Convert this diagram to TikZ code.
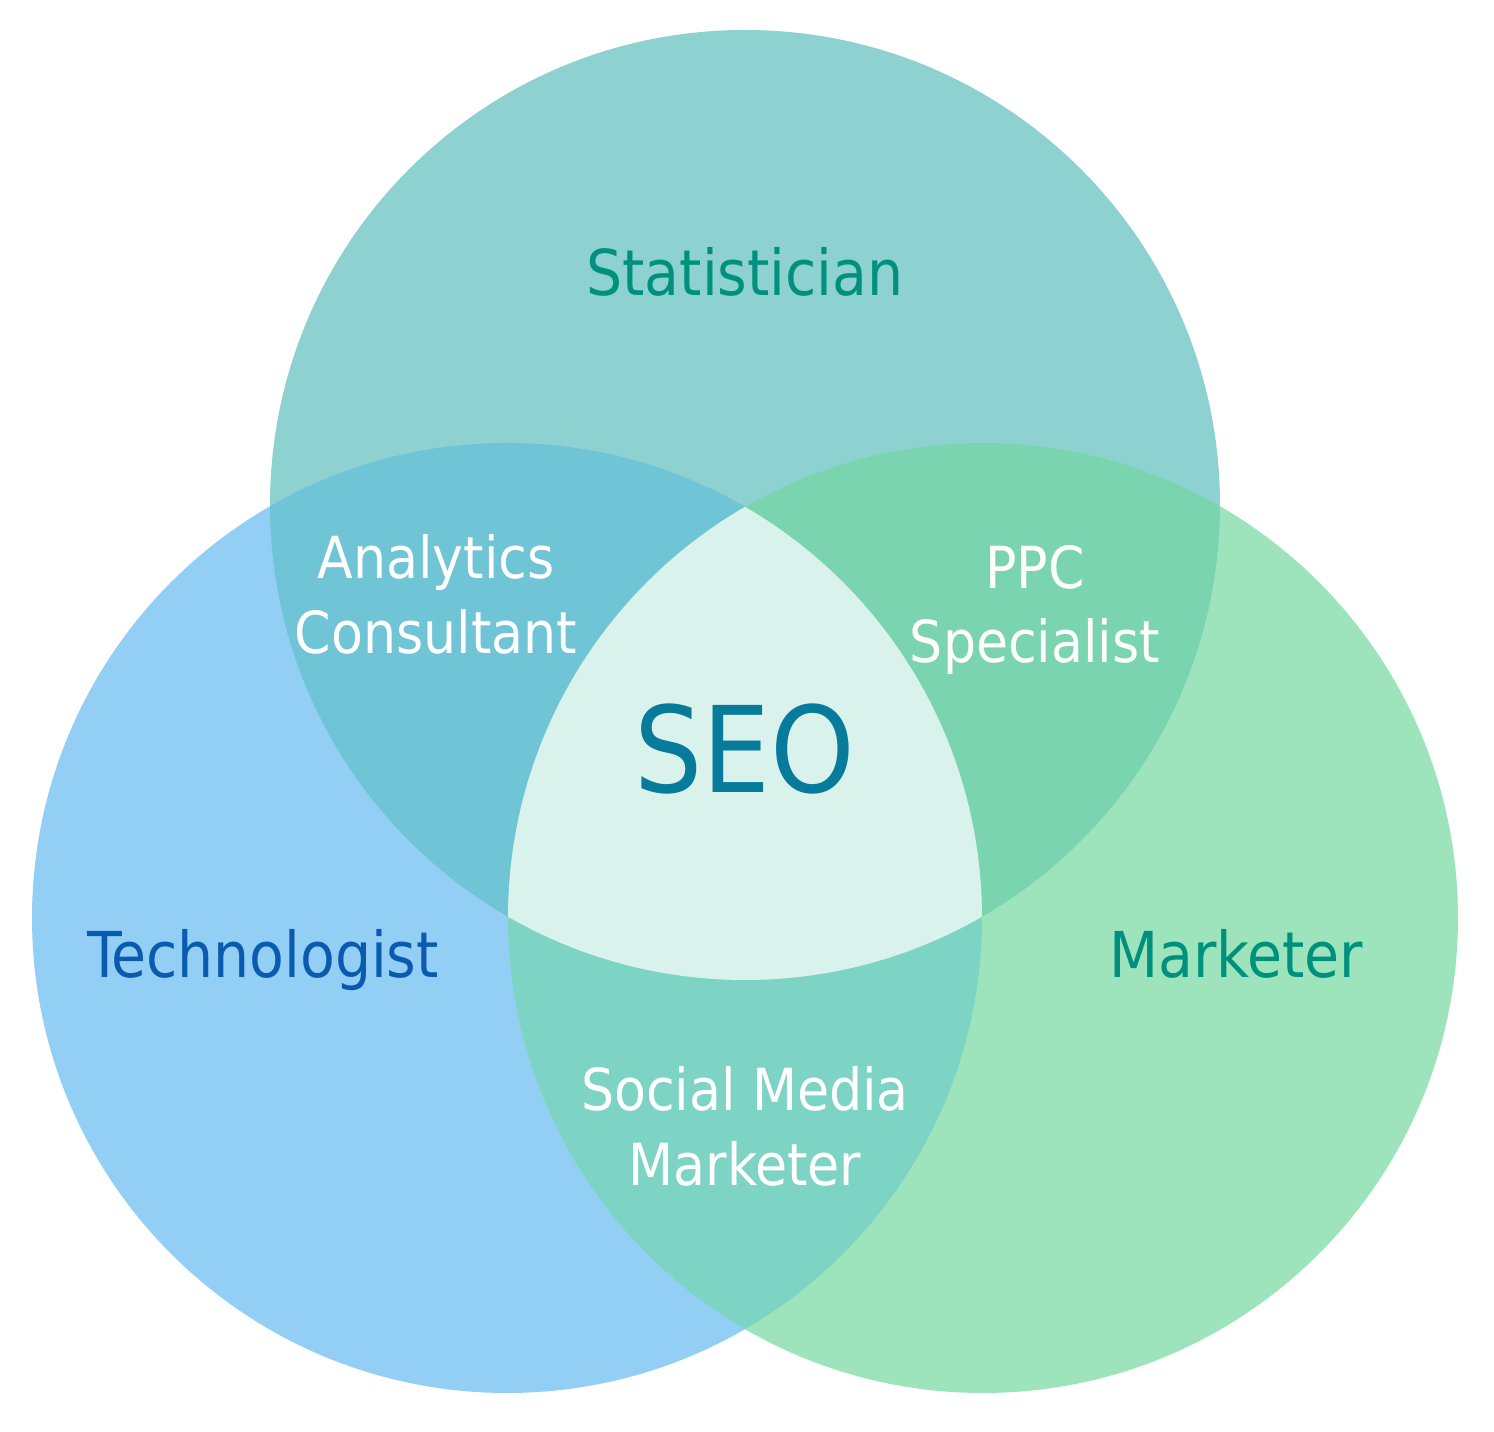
\documentclass[tikz,border=0pt]{standalone}
\usepackage{fontspec}
\setmainfont{DejaVu Sans Condensed}
\definecolor{statfill}{HTML}{8DD1D1}
\definecolor{techfill}{HTML}{93CEF5}
\definecolor{markfill}{HTML}{9DE4BC}
\definecolor{stattech}{HTML}{6FC4D6}
\definecolor{statmark}{HTML}{7AD4B0}
\definecolor{techmark}{HTML}{7DD4C5}
\definecolor{seofill}{HTML}{D9F2EC}
\definecolor{tealtext}{HTML}{00917E}
\definecolor{bluetext}{HTML}{0A5BAF}
\definecolor{seotext}{HTML}{067B9B}
\tikzset{
  setlabel/.style={font=\fontsize{18}{21}\selectfont, inner sep=0pt},
  joblabel/.style={font=\fontsize{16.5}{21.3}\selectfont, text=white, align=center, inner sep=0pt},
}
\begin{document}
\begin{tikzpicture}
    \useasboundingbox (0,0) rectangle (14.94,14.32);
    % the three sets
    \fill[statfill] (7.45,9.27) circle (4.75);
    \fill[techfill] (5.07,5.14) circle (4.75);
    \fill[markfill] (9.83,5.14) circle (4.75);
    % pairwise overlaps
    \begin{scope}
        \clip (7.45,9.27) circle (4.75);
        \fill[stattech] (5.07,5.14) circle (4.75);
    \end{scope}
    \begin{scope}
        \clip (7.45,9.27) circle (4.75);
        \fill[statmark] (9.83,5.14) circle (4.75);
    \end{scope}
    \begin{scope}
        \clip (5.07,5.14) circle (4.75);
        \fill[techmark] (9.83,5.14) circle (4.75);
    \end{scope}
    % centre
    \begin{scope}
        \clip (7.45,9.27) circle (4.75);
        \clip (5.07,5.14) circle (4.75);
        \fill[seofill] (9.83,5.14) circle (4.75);
    \end{scope}
    % labels
    \node[setlabel, text=tealtext, anchor=base] (stat) at (7.45,11.36) {Statistician};
    \node[setlabel, text=bluetext, anchor=base] (tech) at (2.63,4.54) {Technologist};
    \node[setlabel, text=tealtext, anchor=base] (mark) at (12.36,4.54) {Marketer};
    \node[font=\fontsize{34}{40}\selectfont, text=seotext, inner sep=0pt, anchor=base] (seo) at (7.45,6.39) {SEO};
    \node[joblabel] (analytics) at (4.36,8.38) {Analytics\\Consultant};
    \node[joblabel] (ppc) at (10.35,8.22) {PPC\\Specialist};
    \node[joblabel] (social) at (7.45,3.06) {Social Media\\Marketer};
\end{tikzpicture}
\end{document}
